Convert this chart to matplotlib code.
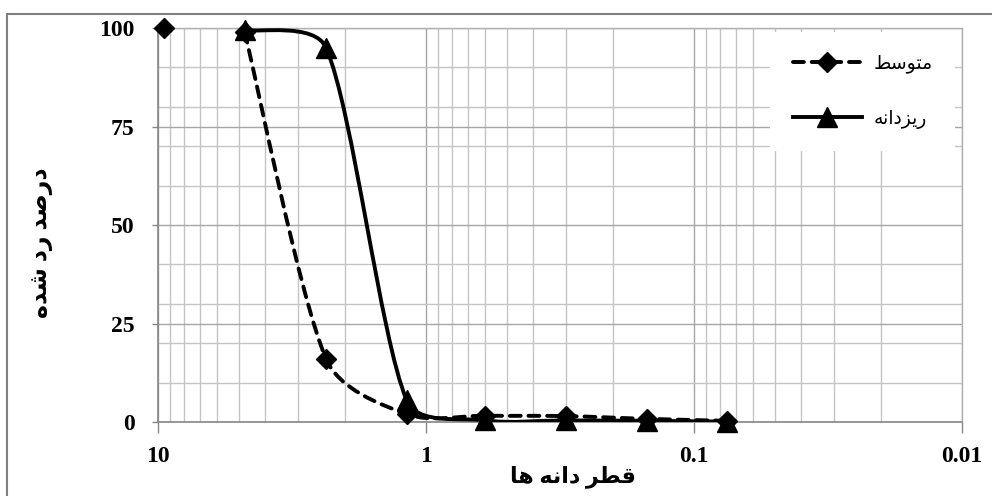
import numpy as np
import matplotlib
matplotlib.use("Agg")
import matplotlib.pyplot as plt
from matplotlib.path import Path
from matplotlib.patches import PathPatch, Rectangle
from matplotlib.lines import Line2D
from matplotlib.ticker import FixedLocator, LogLocator, NullFormatter

# grain size (mm) and percent retained
sieve = [9.5, 4.75, 2.36, 1.18, 0.6, 0.3, 0.15, 0.075]
motavaset = [100, 99, 16, 2, 1.6, 1.5, 0.8, 0.3]
rizdane = [np.nan, 99.5, 95, 5.5, 0.4, 0.4, 0.3, 0.1]

x_ticks = [10, 1, 0.1, 0.01]
x_ticklabels = ["10", "1", "0.1", "0.01"]
y_ticks = [0, 25, 50, 75, 100]

# Arabic text already shaped (presentation forms, visual order)
name_motavaset = "\uFEC2\uFEB3\uFEEE\uFE98\uFEE3"          # متوسط
name_rizdane = "\uFEEA\uFEE7\uFE8D\uFEA9\uFEB0\uFEF3\uFEAD"  # ریزدانه
xlabel = "\uFE8E\uFEEB \uFEEA\uFEE7\uFE8D\uFEA9 \uFEAE\uFEC4\uFED7"  # قطر دانه ها
ylabel = "\uFEE9\uFEAA\uFEB7 \uFEA9\uFEAD \uFEAA\uFEBB\uFEAD\uFEA9"  # درصد رد شده

fonts = ["Liberation Serif", "DejaVu Sans"]
plt.rcParams["font.family"] = fonts
plt.rcParams["font.weight"] = "bold"


def smooth_path(ax, x, y):
    """Excel-like smoothed line, built in screen space and mapped back."""
    x = np.asarray(x, float)
    y = np.asarray(y, float)
    ok = ~np.isnan(y)
    P = ax.transData.transform(np.column_stack([x[ok], y[ok]]))
    n = len(P)
    verts = [P[0]]
    codes = [Path.MOVETO]
    for i in range(n - 1):
        p0, p1 = P[max(i - 1, 0)], P[i]
        p2, p3 = P[i + 1], P[min(i + 2, n - 1)]
        seg = np.hypot(*(p2 - p1))
        t1 = (p2 - p0) / 6
        t2 = (p3 - p1) / 6
        cap = seg / 3
        if np.hypot(*t1) > cap:
            t1 = t1 * cap / np.hypot(*t1)
        if np.hypot(*t2) > cap:
            t2 = t2 * cap / np.hypot(*t2)
        verts += [p1 + t1, p2 - t2, p2]
        codes += [Path.CURVE4] * 3
    verts = ax.transData.inverted().transform(np.array(verts))
    return Path(verts, codes)


fig = plt.figure(figsize=(9.92, 4.96), dpi=100)
ax = fig.add_axes([158 / 992, 74 / 496, 804 / 992, 394 / 496])

ax.set_xscale("log")
ax.set_xlim(10, 0.01)
ax.set_ylim(0, 100)

lw = 2.8
dash = (0, (2.8, 2.0))
d_ms, t_ms = 10.5, 14
# متوسط: the line starts at 4.75
ax.add_patch(PathPatch(smooth_path(ax, sieve[1:], motavaset[1:]), fill=False,
                       edgecolor="black", lw=lw, linestyle=dash,
                       capstyle="round", zorder=3))
ax.plot(sieve, motavaset, linestyle="none", marker="D", ms=d_ms,
        color="black", zorder=4, clip_on=False)
ax.add_patch(PathPatch(smooth_path(ax, sieve, rizdane), fill=False,
                       edgecolor="black", lw=lw, linestyle="-", zorder=5))
ax.plot(sieve, rizdane, linestyle="none", marker="^", ms=t_ms,
        color="black", zorder=6, clip_on=False)

# grid
ax.xaxis.set_major_locator(FixedLocator(x_ticks))
ax.xaxis.set_minor_locator(LogLocator(base=10, subs=np.arange(2, 10)))
ax.xaxis.set_minor_formatter(NullFormatter())
ax.set_xticklabels(x_ticklabels)
ax.yaxis.set_major_locator(FixedLocator(y_ticks))
ax.yaxis.set_minor_locator(FixedLocator(np.arange(10, 100, 10)))
ax.grid(True, which="major", color="#a6a6a6", lw=1.0)
ax.grid(True, which="minor", color="#c4c4c4", lw=1.0)
ax.set_axisbelow(True)

ax.tick_params(axis="x", which="major", direction="out", length=8,
               width=1, color="#868686", pad=9, labelsize=17)
ax.tick_params(axis="y", which="major", direction="out", length=4,
               width=1, color="#868686", pad=13, labelsize=17)
ax.tick_params(which="minor", length=0)

for side in ["left", "bottom"]:
    ax.spines[side].set_color("#868686")
    ax.spines[side].set_linewidth(1.2)
for side in ["top", "right"]:
    ax.spines[side].set_color("#b0b0b0")
    ax.spines[side].set_linewidth(1.0)

ax.set_xlabel(xlabel, fontsize=16, fontweight="bold")
ax.xaxis.set_label_coords((573 - 158) / 804, (422 - 465) / 394)
ax.set_ylabel(ylabel, fontsize=17, fontweight="bold")
ax.yaxis.set_label_coords((53 - 158) / 804, (422 - 243) / 394)

handles = [
    Line2D([], [], color="black", lw=lw, linestyle=dash,
           dash_capstyle="round", marker="D", ms=d_ms),
    Line2D([], [], color="black", lw=lw, marker="^", ms=t_ms),
]
leg = ax.legend(handles, [name_motavaset, name_rizdane], loc="upper right",
                bbox_to_anchor=((955 - 158) / 804, (422 - 32) / 394),
                prop={"size": 13.5, "weight": "normal"}, frameon=True,
                fancybox=False, edgecolor="none", framealpha=1,
                handlelength=3.7, labelspacing=1.95, borderpad=1.2,
                handletextpad=0.6, borderaxespad=0)

# outer chart border
fig.add_artist(Rectangle((7 / 992, -0.2), 2, 1.2 - 14 / 496,
                         transform=fig.transFigure, fill=False,
                         edgecolor="#808080", lw=1.5))

fig.savefig("out.png", dpi=100)
